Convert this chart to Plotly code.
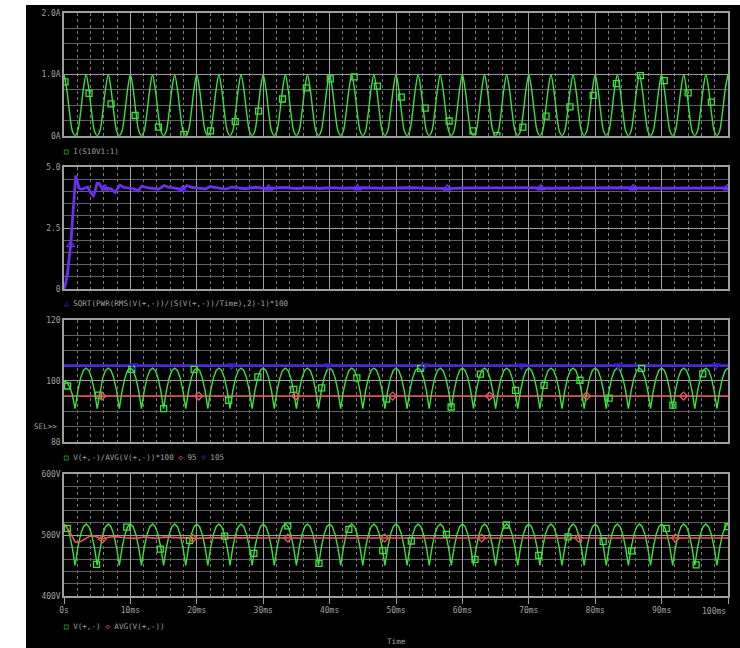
import plotly.graph_objects as go

W, H = 740, 648

# ---------------- data (time in ms) ----------------
SAMPLE_MS = 100 / 240  # sample spacing of the dense waveforms

# Panel 1: I(S10V1:1)  [A]
i_s10v1 = [
    1.00, 0.76, 0.38, 0.08, 0.00, 0.08, 0.38, 0.76,
    1.00, 0.76, 0.38, 0.08, 0.00, 0.08, 0.38, 0.76,
    1.00, 0.76, 0.38, 0.08, 0.00, 0.08, 0.38, 0.76,
    1.00, 0.76, 0.38, 0.08, 0.00, 0.08, 0.38, 0.76,
    1.00, 0.76, 0.38, 0.08, 0.00, 0.08, 0.38, 0.76,
    1.00, 0.76, 0.38, 0.08, 0.00, 0.08, 0.38, 0.76,
    1.00, 0.76, 0.38, 0.08, 0.00, 0.08, 0.38, 0.76,
    1.00, 0.76, 0.38, 0.08, 0.00, 0.08, 0.38, 0.76,
    1.00, 0.76, 0.38, 0.08, 0.00, 0.08, 0.38, 0.76,
    1.00, 0.76, 0.38, 0.08, 0.00, 0.08, 0.38, 0.76,
    1.00, 0.76, 0.38, 0.08, 0.00, 0.08, 0.38, 0.76,
    1.00, 0.76, 0.38, 0.08, 0.00, 0.08, 0.38, 0.76,
    1.00, 0.76, 0.38, 0.08, 0.00, 0.08, 0.38, 0.76,
    1.00, 0.76, 0.38, 0.08, 0.00, 0.08, 0.38, 0.76,
    1.00, 0.76, 0.38, 0.08, 0.00, 0.08, 0.38, 0.76,
    1.00, 0.76, 0.38, 0.08, 0.00, 0.08, 0.38, 0.76,
    1.00, 0.76, 0.38, 0.08, 0.00, 0.08, 0.38, 0.76,
    1.00, 0.76, 0.38, 0.08, 0.00, 0.08, 0.38, 0.76,
    1.00, 0.76, 0.38, 0.08, 0.00, 0.08, 0.38, 0.76,
    1.00, 0.76, 0.38, 0.08, 0.00, 0.08, 0.38, 0.76,
    1.00, 0.76, 0.38, 0.08, 0.00, 0.08, 0.38, 0.76,
    1.00, 0.76, 0.38, 0.08, 0.00, 0.08, 0.38, 0.76,
    1.00, 0.76, 0.38, 0.08, 0.00, 0.08, 0.38, 0.76,
    1.00, 0.76, 0.38, 0.08, 0.00, 0.08, 0.38, 0.76,
    1.00, 0.76, 0.38, 0.08, 0.00, 0.08, 0.38, 0.76,
    1.00, 0.76, 0.38, 0.08, 0.00, 0.08, 0.38, 0.76,
    1.00, 0.76, 0.38, 0.08, 0.00, 0.08, 0.38, 0.76,
    1.00, 0.76, 0.38, 0.08, 0.00, 0.08, 0.38, 0.76,
    1.00, 0.76, 0.38, 0.08, 0.00, 0.08, 0.38, 0.76,
    1.00, 0.76, 0.38, 0.08, 0.00, 0.08, 0.38, 0.76,
    1.00,
]
i_mark_t = [0.15, 3.77, 7.09, 10.71, 14.22, 18.05, 22.07, 25.79, 29.31, 32.9,
            36.5, 40.1, 43.7, 47.2, 50.8, 54.4, 58.0, 61.6, 65.2, 69.1,
            72.6, 76.2, 79.7, 83.2, 86.8, 90.4, 94.0, 97.5]
i_mark_v = [0.88, 0.69, 0.52, 0.33, 0.14, 0.02, 0.08, 0.23, 0.40, 0.60,
            0.78, 0.93, 0.96, 0.81, 0.63, 0.45, 0.24, 0.08, 0.00, 0.14,
            0.32, 0.47, 0.66, 0.85, 0.98, 0.90, 0.70, 0.55]

# Panel 2: ripple factor
ripple_t = [0, 0.25, 0.5, 0.75, 1.0, 1.26, 1.51, 1.76, 2.01, 2.26,
            2.66, 3.17, 3.57, 3.92, 4.42, 4.67, 4.97, 5.28, 5.68, 6.18,
            6.68, 7.09, 7.69, 8.44, 8.94, 9.7, 10.7, 11.2, 11.7, 12.5,
            13.2, 14.2, 15.1, 15.7, 16.7, 17.8, 18.5, 19.2, 20.3, 21.3,
            22.0, 22.8, 23.8, 24.5, 25.3, 26.3, 27.3, 28.8, 29.8, 31.3,
            33.0, 35.0, 36.6, 38.5, 40.0, 42.0, 45.0, 48.0, 52.0, 55.0,
            57.8, 60.0, 63.0, 66.0, 70.0, 73.0, 76.0, 80.0, 84.0, 88.0,
            92.0, 96.0, 100.0]
ripple_v = [0, 0.23, 0.58, 1.12, 1.81, 2.77, 3.73, 4.66, 4.41, 4.14,
            4.10, 4.14, 4.19, 4.00, 3.84, 4.00, 4.34, 4.34, 4.16, 4.14,
            4.14, 4.11, 3.97, 4.27, 4.18, 4.14, 4.10, 4.03, 4.23, 4.16,
            4.14, 4.10, 4.25, 4.18, 4.14, 4.08, 4.25, 4.18, 4.14, 4.11,
            4.21, 4.16, 4.12, 4.11, 4.19, 4.15, 4.12, 4.18, 4.14, 4.14,
            4.17, 4.13, 4.16, 4.13, 4.16, 4.14, 4.16, 4.14, 4.16, 4.14,
            4.12, 4.15, 4.16, 4.14, 4.16, 4.14, 4.15, 4.14, 4.16, 4.14,
            4.15, 4.14, 4.15]
ripple_mark_t = [1.0, 6.2, 17.8, 30.8, 44.2, 57.7, 71.8, 85.7, 99.9]
ripple_mark_v = [1.81, 4.14, 4.08, 4.14, 4.15, 4.14, 4.15, 4.15, 4.15]

# Panel 3: V(+,-)/AVG(V(+,-))*100
ratio_v = [
    100.0, 99.5, 98.0, 95.5, 90.9, 96.7, 100.9, 103.4,
    104.2, 103.4, 100.9, 96.7, 90.9, 96.7, 100.9, 103.4,
    104.2, 103.4, 100.9, 96.7, 90.9, 96.7, 100.9, 103.4,
    104.2, 103.4, 100.9, 96.7, 90.9, 96.7, 100.9, 103.4,
    104.2, 103.4, 100.9, 96.7, 90.9, 96.7, 100.9, 103.4,
    104.2, 103.4, 100.9, 96.7, 90.9, 96.7, 100.9, 103.4,
    104.2, 103.4, 100.9, 96.7, 90.9, 96.7, 100.9, 103.4,
    104.2, 103.4, 100.9, 96.7, 90.9, 96.7, 100.9, 103.4,
    104.2, 103.4, 100.9, 96.7, 90.9, 96.7, 100.9, 103.4,
    104.2, 103.4, 100.9, 96.7, 90.9, 96.7, 100.9, 103.4,
    104.2, 103.4, 100.9, 96.7, 90.9, 96.7, 100.9, 103.4,
    104.2, 103.4, 100.9, 96.7, 90.9, 96.7, 100.9, 103.4,
    104.2, 103.4, 100.9, 96.7, 90.9, 96.7, 100.9, 103.4,
    104.2, 103.4, 100.9, 96.7, 90.9, 96.7, 100.9, 103.4,
    104.2, 103.4, 100.9, 96.7, 90.9, 96.7, 100.9, 103.4,
    104.2, 103.4, 100.9, 96.7, 90.9, 96.7, 100.9, 103.4,
    104.2, 103.4, 100.9, 96.7, 90.9, 96.7, 100.9, 103.4,
    104.2, 103.4, 100.9, 96.7, 90.9, 96.7, 100.9, 103.4,
    104.2, 103.4, 100.9, 96.7, 90.9, 96.7, 100.9, 103.4,
    104.2, 103.4, 100.9, 96.7, 90.9, 96.7, 100.9, 103.4,
    104.2, 103.4, 100.9, 96.7, 90.9, 96.7, 100.9, 103.4,
    104.2, 103.4, 100.9, 96.7, 90.9, 96.7, 100.9, 103.4,
    104.2, 103.4, 100.9, 96.7, 90.9, 96.7, 100.9, 103.4,
    104.2, 103.4, 100.9, 96.7, 90.9, 96.7, 100.9, 103.4,
    104.2, 103.4, 100.9, 96.7, 90.9, 96.7, 100.9, 103.4,
    104.2, 103.4, 100.9, 96.7, 90.9, 96.7, 100.9, 103.4,
    104.2, 103.4, 100.9, 96.7, 90.9, 96.7, 100.9, 103.4,
    104.2, 103.4, 100.9, 96.7, 90.9, 96.7, 100.9, 103.4,
    104.2, 103.4, 100.9, 96.7, 90.9, 96.7, 100.9, 103.4,
    104.2, 103.4, 100.9, 96.7, 90.9, 96.7, 100.9, 103.4,
    104.2,
]
ratio_mark_t = [0.55, 5.2, 10.2, 15.0, 19.6, 24.8, 29.2, 34.6, 38.8, 44.1, 48.6,
                53.7, 58.3, 62.7, 68.0, 72.3, 77.7, 82.1, 87.0, 91.7, 96.2]
ratio_mark_v = [98.3, 95.3, 103.8, 90.9, 103.8, 93.6, 101.3, 97.2, 97.7, 101.0, 94.0,
                104.1, 91.4, 102.2, 96.9, 98.5, 100.2, 94.3, 104.1, 92.0, 102.3]
band_t = [0, 100]
band_low = [95, 95]
band_high = [105, 105]
low_mark_t = [5.7, 20.3, 34.9, 49.5, 64.1, 78.7, 93.3]
low_mark_v = [95, 95, 95, 95, 95, 95, 95]
high_mark_t = [10.6, 25.2, 39.8, 54.3, 68.9, 83.5, 98.2]
high_mark_v = [105, 105, 105, 105, 105, 105, 105]

# Panel 4: V(+,-) [V]
v_out = [
    518.0, 513.6, 500.7, 479.4, 450.0, 479.4, 500.7, 513.6,
    518.0, 513.6, 500.7, 479.4, 450.0, 479.4, 500.7, 513.6,
    518.0, 513.6, 500.7, 479.4, 450.0, 479.4, 500.7, 513.6,
    518.0, 513.6, 500.7, 479.4, 450.0, 479.4, 500.7, 513.6,
    518.0, 513.6, 500.7, 479.4, 450.0, 479.4, 500.7, 513.6,
    518.0, 513.6, 500.7, 479.4, 450.0, 479.4, 500.7, 513.6,
    518.0, 513.6, 500.7, 479.4, 450.0, 479.4, 500.7, 513.6,
    518.0, 513.6, 500.7, 479.4, 450.0, 479.4, 500.7, 513.6,
    518.0, 513.6, 500.7, 479.4, 450.0, 479.4, 500.7, 513.6,
    518.0, 513.6, 500.7, 479.4, 450.0, 479.4, 500.7, 513.6,
    518.0, 513.6, 500.7, 479.4, 450.0, 479.4, 500.7, 513.6,
    518.0, 513.6, 500.7, 479.4, 450.0, 479.4, 500.7, 513.6,
    518.0, 513.6, 500.7, 479.4, 450.0, 479.4, 500.7, 513.6,
    518.0, 513.6, 500.7, 479.4, 450.0, 479.4, 500.7, 513.6,
    518.0, 513.6, 500.7, 479.4, 450.0, 479.4, 500.7, 513.6,
    518.0, 513.6, 500.7, 479.4, 450.0, 479.4, 500.7, 513.6,
    518.0, 513.6, 500.7, 479.4, 450.0, 479.4, 500.7, 513.6,
    518.0, 513.6, 500.7, 479.4, 450.0, 479.4, 500.7, 513.6,
    518.0, 513.6, 500.7, 479.4, 450.0, 479.4, 500.7, 513.6,
    518.0, 513.6, 500.7, 479.4, 450.0, 479.4, 500.7, 513.6,
    518.0, 513.6, 500.7, 479.4, 450.0, 479.4, 500.7, 513.6,
    518.0, 513.6, 500.7, 479.4, 450.0, 479.4, 500.7, 513.6,
    518.0, 513.6, 500.7, 479.4, 450.0, 479.4, 500.7, 513.6,
    518.0, 513.6, 500.7, 479.4, 450.0, 479.4, 500.7, 513.6,
    518.0, 513.6, 500.7, 479.4, 450.0, 479.4, 500.7, 513.6,
    518.0, 513.6, 500.7, 479.4, 450.0, 479.4, 500.7, 513.6,
    518.0, 513.6, 500.7, 479.4, 450.0, 479.4, 500.7, 513.6,
    518.0, 513.6, 500.7, 479.4, 450.0, 479.4, 500.7, 513.6,
    518.0, 513.6, 500.7, 479.4, 450.0, 479.4, 500.7, 513.6,
    518.0, 513.6, 500.7, 479.4, 450.0, 479.4, 500.7, 513.6,
    518.0,
]
v_mark_t = [0.5, 4.9, 9.45, 14.5, 18.9, 24.2, 28.6, 33.7, 38.4, 42.9, 48.0,
            52.3, 57.6, 61.9, 66.6, 71.5, 75.9, 81.2, 85.5, 90.7, 95.2, 100.0]
v_mark_v = [511, 452, 513, 477, 491, 498, 470, 515, 453.6, 509.3, 474.3,
            490.2, 501.1, 460.2, 516.4, 466.7, 497, 489.6, 474, 511, 451, 513.7]
avg_t = [0, 0.85, 1.66, 2.16, 2.9, 3.9, 4.9, 5.8, 6.7, 7.7, 9.2, 10.7, 12.2, 13.7,
         15.2, 17.2, 19.4, 22, 26, 30, 40, 50, 60, 70, 80, 90, 100]
avg_v = [518, 505.4, 489, 487.4, 491.8, 498.4, 497.3, 493.4, 496.2, 497.3, 495.6,
         494.5, 496.7, 494.5, 496.5, 495.6, 494.5, 495.3, 494.8, 495.2, 495, 495,
         495, 495, 495, 495, 495]
avg_mark_t = [5.8, 19.4, 33.7, 48.3, 62.9, 77.5, 92.1]
avg_mark_v = [493.4, 494.5, 495, 495, 495, 495, 495]

x_tick_vals = [0, 10, 20, 30, 40, 50, 60, 70, 80, 90, 100]
x_tick_text = ["0s", "10ms", "20ms", "30ms", "40ms", "50ms", "60ms", "70ms", "80ms", "90ms", ""]
x_end_label = "100ms"  # drawn right-aligned at the axis end, as in the original

# ---------------- styling ----------------
GREEN = "#3ee03e"
PURPLE = "#6a2ff0"
BLUE = "#4a2bd0"
RED = "#e85858"
TXT = "#a0a0a0"
MAJ = "#9e9e9e"
MINH = "#606060"
MINV = "#7a7a7a"
FONT = "DejaVu Sans Mono, Liberation Mono, monospace"


def px_x(px):
    return px / W


def px_y(py):
    return 1 - py / H


X_DOM = [px_x(64), px_x(728)]
panels = [  # (top px, bottom px, range, major vals, labels, minor step)
    (13.3, 135.7, [0, 2], [0, 1, 2], ["0A", "1.0A", "2.0A"], 0.25),
    (167.3, 289.0, [0, 5], [0, 2.5, 5], ["0", "2.5", "5.0"], 0.5),
    (320.0, 441.7, [80, 120], [80, 100, 120], ["80", "100", "120"], 5),
    (474.0, 596.0, [400, 600], [400, 500, 600], ["400V", "500V", "600V"], 20),
]

fig = go.Figure()

layout = dict(
    width=W, height=H, autosize=False,
    margin=dict(l=0, r=0, t=0, b=0, pad=0, autoexpand=False),
    paper_bgcolor="white",
    plot_bgcolor="black",
    showlegend=False,
    font=dict(family=FONT, size=8, color=TXT),
)

for k, (top, bot, rng, tv, tt, mstep) in enumerate(panels, start=1):
    sfx = "" if k == 1 else str(k)
    last = k == 4
    xa = dict(
        domain=X_DOM, range=[0, 100], anchor="y" + sfx, automargin=False,
        showline=True, mirror=True, linecolor=MAJ, linewidth=1.5,
        showgrid=True, gridcolor=MAJ, gridwidth=1.3, zeroline=False,
        tickmode="array", tickvals=x_tick_vals, ticktext=x_tick_text,
        showticklabels=last, ticks="outside" if last else "",
        ticklen=6, tickcolor=MAJ, tickwidth=1.3,
        tickfont=dict(family=FONT, size=8, color=TXT),
        minor=dict(tickmode="linear", tick0=0, dtick=2, showgrid=True,
                   gridcolor=MINV, griddash="dot", gridwidth=1),
        fixedrange=True,
    )
    ya = dict(
        domain=[px_y(bot), px_y(top)], range=rng, anchor="x" + sfx, automargin=False,
        showline=True, mirror=True, linecolor=MAJ, linewidth=1.5,
        showgrid=True, gridcolor=MAJ, gridwidth=1.3, zeroline=False,
        tickmode="array", tickvals=tv, ticktext=tt, ticks="",
        tickfont=dict(family=FONT, size=8, color=TXT),
        minor=dict(tickmode="linear", tick0=rng[0], dtick=mstep, showgrid=True,
                   gridcolor=MINH, gridwidth=1.1),
        fixedrange=True,
    )
    layout["xaxis" + sfx] = xa
    layout["yaxis" + sfx] = ya

fig.update_layout(**layout)

# background black block
fig.add_shape(type="rect", xref="paper", yref="paper",
              x0=px_x(26), x1=1, y0=0, y1=px_y(5),
              fillcolor="black", line=dict(width=0), layer="below")

# Panel 1
fig.add_trace(go.Scatter(y=i_s10v1, x0=0, dx=SAMPLE_MS, mode="lines",
                         line=dict(color=GREEN, width=1.4, shape="spline", smoothing=0.8),
                         xaxis="x", yaxis="y"))
fig.add_trace(go.Scatter(x=i_mark_t, y=i_mark_v, mode="markers",
                         marker=dict(symbol="square-open", size=6, color=GREEN, line=dict(width=1.3)),
                         xaxis="x", yaxis="y"))

# Panel 2
fig.add_trace(go.Scatter(x=ripple_t, y=ripple_v, mode="lines",
                         line=dict(color=PURPLE, width=2.8),
                         xaxis="x2", yaxis="y2"))
fig.add_trace(go.Scatter(x=ripple_mark_t, y=ripple_mark_v, mode="markers",
                         marker=dict(symbol="triangle-up-open", size=7, color=PURPLE, line=dict(width=1.3)),
                         xaxis="x2", yaxis="y2"))

# Panel 3
fig.add_trace(go.Scatter(x=band_t, y=band_high, mode="lines",
                         line=dict(color=BLUE, width=2.8), xaxis="x3", yaxis="y3"))
fig.add_trace(go.Scatter(x=band_t, y=band_low, mode="lines",
                         line=dict(color=RED, width=1.6), xaxis="x3", yaxis="y3"))
fig.add_trace(go.Scatter(y=ratio_v, x0=0, dx=SAMPLE_MS, mode="lines",
                         line=dict(color=GREEN, width=1.4), xaxis="x3", yaxis="y3"))
fig.add_trace(go.Scatter(x=ratio_mark_t, y=ratio_mark_v, mode="markers",
                         marker=dict(symbol="square-open", size=6, color=GREEN, line=dict(width=1.3)),
                         xaxis="x3", yaxis="y3"))
fig.add_trace(go.Scatter(x=low_mark_t, y=low_mark_v, mode="markers",
                         marker=dict(symbol="diamond-open", size=6, color=RED, line=dict(width=1.3)),
                         xaxis="x3", yaxis="y3"))
fig.add_trace(go.Scatter(x=high_mark_t, y=high_mark_v, mode="markers",
                         marker=dict(symbol="triangle-down-open", size=7, color="#3a1fc4", line=dict(width=1.5)),
                         xaxis="x3", yaxis="y3"))

# Panel 4
fig.add_trace(go.Scatter(y=v_out, x0=0, dx=SAMPLE_MS, mode="lines",
                         line=dict(color=GREEN, width=1.4), xaxis="x4", yaxis="y4"))
fig.add_trace(go.Scatter(x=avg_t, y=avg_v, mode="lines",
                         line=dict(color=RED, width=1.6), xaxis="x4", yaxis="y4"))
fig.add_trace(go.Scatter(x=v_mark_t, y=v_mark_v, mode="markers",
                         marker=dict(symbol="square-open", size=6, color=GREEN, line=dict(width=1.3)),
                         xaxis="x4", yaxis="y4"))
fig.add_trace(go.Scatter(x=avg_mark_t, y=avg_mark_v, mode="markers",
                         marker=dict(symbol="diamond-open", size=6, color=RED, line=dict(width=1.3)),
                         xaxis="x4", yaxis="y4"))


def sp(color, ch):
    return f"<span style='color:{color}'>{ch}</span>"


legends = [
    (151, sp(GREEN, "□") + " I(S10V1:1)"),
    (303, sp(PURPLE, "△") + " SQRT(PWR(RMS(V(+,-))/(S(V(+,-))/Time),2)-1)*100"),
    (457, sp(GREEN, "□") + " V(+,-)/AVG(V(+,-))*100 " + sp(RED, "◇") + " 95 " + sp(BLUE, "▽") + " 105"),
    (626, sp(GREEN, "□") + " V(+,-) " + sp(RED, "◇") + " AVG(V(+,-))"),
]
for py, txt in legends:
    fig.add_annotation(xref="paper", yref="paper", x=px_x(62), y=px_y(py),
                       xanchor="left", yanchor="middle", showarrow=False,
                       text=txt, font=dict(family=FONT, size=7.6, color=TXT))

fig.add_annotation(xref="paper", yref="paper", x=px_x(59), y=px_y(426),
                   xanchor="right", yanchor="middle", showarrow=False,
                   text="SEL>>", font=dict(family=FONT, size=7.6, color=TXT))
fig.add_annotation(xref="x4", yref="paper", x=100, y=px_y(611),
                   xanchor="right", yanchor="middle", showarrow=False,
                   text=x_end_label, font=dict(family=FONT, size=8, color=TXT))
fig.add_annotation(xref="paper", yref="paper", x=px_x(396), y=px_y(641),
                   xanchor="center", yanchor="middle", showarrow=False,
                   text="Time", font=dict(family=FONT, size=7.6, color=TXT))

fig.write_html(
    "out.html",
    config={"displayModeBar": False},
    post_script=(
        "document.documentElement.style.margin='0';"
        "document.body.style.margin='0';document.body.style.padding='0';"
        "var d=document.getElementById('{plot_id}');"
        "d.style.position='absolute';d.style.left='0px';d.style.top='0px';"
    ),
)
